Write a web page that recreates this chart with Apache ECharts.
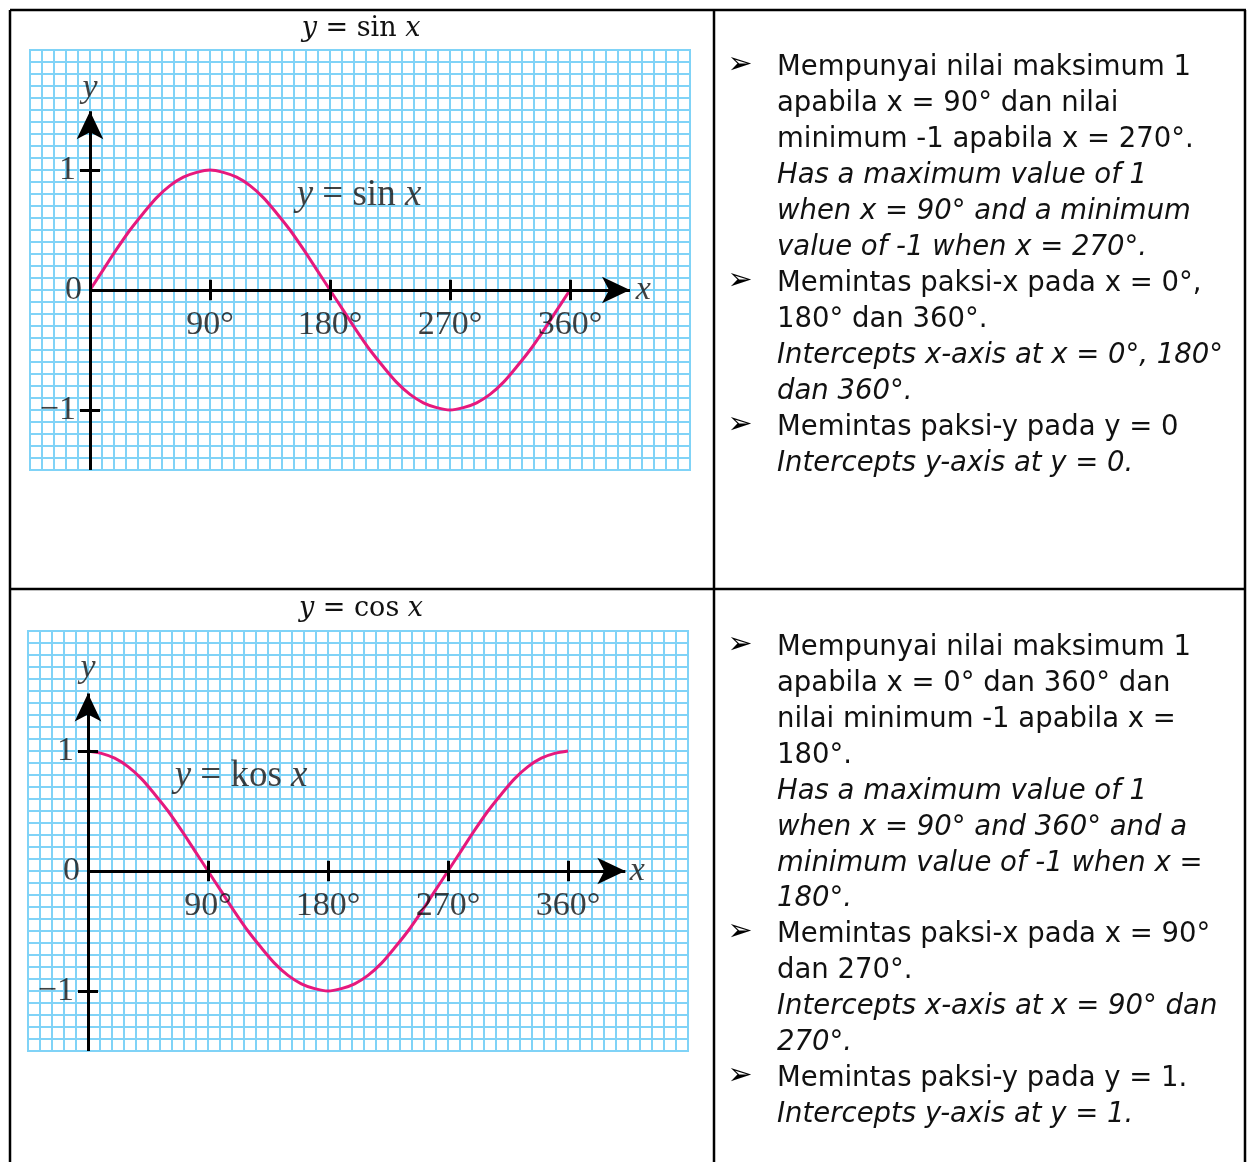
<!DOCTYPE html>
<html>
<head>
<meta charset="utf-8">
<script src="https://cdn.jsdelivr.net/npm/echarts@6/dist/echarts.min.js"></script>
<style>
  html, body { margin: 0; padding: 0; background: #fff; }
  #chart { width: 1248px; height: 1162px; }
</style>
</head>
<body>
<div id="chart"></div>
<script>
// Angle samples (degrees) along one full period
const degrees = [0, 10, 20, 30, 40, 50, 60, 70, 80, 90, 100, 110, 120, 130, 140, 150, 160, 170, 180,
                 190, 200, 210, 220, 230, 240, 250, 260, 270, 280, 290, 300, 310, 320, 330, 340, 350, 360];
// y = sin x
const sinValues = [0, 0.17, 0.34, 0.5, 0.64, 0.77, 0.87, 0.94, 0.98, 1, 0.98, 0.94, 0.87, 0.77, 0.64, 0.5, 0.34, 0.17, 0,
                   -0.17, -0.34, -0.5, -0.64, -0.77, -0.87, -0.94, -0.98, -1, -0.98, -0.94, -0.87, -0.77, -0.64, -0.5, -0.34, -0.17, 0];
// y = kos x
const cosValues = [1, 0.98, 0.94, 0.87, 0.77, 0.64, 0.5, 0.34, 0.17, 0, -0.17, -0.34, -0.5, -0.64, -0.77, -0.87, -0.94, -0.98, -1,
                   -0.98, -0.94, -0.87, -0.77, -0.64, -0.5, -0.34, -0.17, 0, 0.17, 0.34, 0.5, 0.64, 0.77, 0.87, 0.94, 0.98, 1];

// Axis ticks and their labels
const xTicks = [90, 180, 270, 360];
const xTickLabels = ['90°', '180°', '270°', '360°'];
const yTicks = [1, 0, -1];
const yTickLabels = ['1', '0', '−1'];

// Notes beside each graph: [text, italic, bullet]
const sinNotes = [
  ['Mempunyai nilai maksimum 1', false, true],
  ['apabila x = 90° dan nilai', false, false],
  ['minimum -1 apabila x = 270°.', false, false],
  ['Has a maximum value of 1', true, false],
  ['when x = 90° and a minimum', true, false],
  ['value of -1 when x = 270°.', true, false],
  ['Memintas paksi-x pada x = 0°,', false, true],
  ['180° dan 360°.', false, false],
  ['Intercepts x-axis at x = 0°, 180°', true, false],
  ['dan 360°.', true, false],
  ['Memintas paksi-y pada y = 0', false, true],
  ['Intercepts y-axis at y = 0.', true, false]
];
const cosNotes = [
  ['Mempunyai nilai maksimum 1', false, true],
  ['apabila x = 0° dan 360° dan', false, false],
  ['nilai minimum -1 apabila x =', false, false],
  ['180°.', false, false],
  ['Has a maximum value of 1', true, false],
  ['when x = 90° and 360° and a', true, false],
  ['minimum value of -1 when x =', true, false],
  ['180°.', true, false],
  ['Memintas paksi-x pada x = 90°', false, true],
  ['dan 270°.', false, false],
  ['Intercepts x-axis at x = 90° dan', true, false],
  ['270°.', true, false],
  ['Memintas paksi-y pada y = 1.', false, true],
  ['Intercepts y-axis at y = 1.', true, false]
];

const PAPER = '#80d3f7';
const CURVE = '#e6197d';
const INK = '#111';
const SERIF = '"Liberation Serif", "DejaVu Serif", serif';
const SANS = '"DejaVu Sans", sans-serif';

function graphPaperAxes(gi) {
  return {
    x: {
      type: 'value', gridIndex: gi, min: -45, max: 450, interval: 9,
      axisLine: { show: false }, axisTick: { show: false }, axisLabel: { show: false },
      splitLine: { show: true, lineStyle: { color: PAPER, width: 2 } }
    },
    y: {
      type: 'value', gridIndex: gi, min: -1.5, max: 2, interval: 0.1,
      axisLine: { show: false }, axisTick: { show: false }, axisLabel: { show: false },
      splitLine: { show: true, lineStyle: { color: PAPER, width: 2 } }
    }
  };
}

// Black axes with arrows, tick marks
function axesSeries(gi, xEnd, yEnd) {
  const segs = [];
  segs.push([{ coord: [0, 0], symbol: 'none' }, { coord: [xEnd, 0], symbol: 'arrow', symbolSize: [20, 28] }]);
  segs.push([{ coord: [0, -1.5], symbol: 'none' }, { coord: [0, yEnd], symbol: 'arrow', symbolSize: [20, 28] }]);
  xTicks.forEach(t => segs.push([{ coord: [t, -0.085], symbol: 'none' }, { coord: [t, 0.085], symbol: 'none' }]));
  yTicks.filter(t => t !== 0).forEach(t => segs.push([{ coord: [-7.5, t], symbol: 'none' }, { coord: [7.5, t], symbol: 'none' }]));
  return {
    type: 'line', xAxisIndex: gi, yAxisIndex: gi, data: [], silent: true, z: 4,
    markLine: {
      silent: true, animation: false, symbol: 'none', precision: 4,
      label: { show: false },
      lineStyle: { color: '#000', width: 3, type: 'solid' },
      emphasis: { disabled: true },
      data: segs
    }
  };
}

function labelSeries(gi, fnText, fnPos, yLabelAt, xLabelAt) {
  const data = [];
  xTicks.forEach((t, i) => data.push({
    value: [t, 0],
    label: { position: 'bottom', distance: 18, formatter: xTickLabels[i] }
  }));
  yTicks.forEach((t, i) => data.push({
    value: [0, t],
    label: { position: 'left', distance: t === 0 ? 8 : 14, formatter: yTickLabels[i] }
  }));
  data.push({ value: [0, yLabelAt], label: { position: 'inside', formatter: '{i|y}' } });
  data.push({ value: [xLabelAt, 0], label: { position: 'inside', formatter: '{i|x}' } });
  data.push({ value: fnPos, label: { position: 'right', distance: 0, formatter: fnText } });
  return {
    type: 'scatter', xAxisIndex: gi, yAxisIndex: gi, symbolSize: 0, silent: true, z: 5,
    data: data,
    label: {
      show: true, color: INK, fontFamily: SERIF, fontSize: 34,
      rich: {
        i: { fontFamily: SERIF, fontSize: 34, fontStyle: 'italic', color: INK },
        f: { fontFamily: SERIF, fontSize: 37, fontStyle: 'italic', color: INK },
        r: { fontFamily: SERIF, fontSize: 37, color: INK }
      }
    }
  };
}

function curveSeries(gi, values) {
  return {
    type: 'line', xAxisIndex: gi, yAxisIndex: gi, z: 3,
    data: degrees.map((d, i) => [d, values[i]]),
    smooth: 0.3, showSymbol: false, silent: true, clip: false,
    lineStyle: { color: CURVE, width: 3 }
  };
}

const a0 = graphPaperAxes(0), a1 = graphPaperAxes(1);

// Table frame and note text
const graphic = [];
const frame = [
  [10, 10, 1246, 10], [10, 10, 10, 1162], [1245, 10, 1245, 1162],
  [714, 10, 714, 1162], [10, 589, 1245, 589]
];
frame.forEach(s => graphic.push({
  type: 'line', shape: { x1: s[0], y1: s[1], x2: s[2], y2: s[3] },
  style: { stroke: '#000', lineWidth: 2.5 }, z: 10
}));

function titleText(cx, cy, fn) {
  graphic.push({
    type: 'text', x: cx, y: cy, z: 10,
    style: {
      text: '{i|y}{r| = ' + fn + ' }{i|x}', align: 'center', verticalAlign: 'middle',
      rich: {
        i: { fontFamily: '"DejaVu Serif", serif', fontSize: 27, fontStyle: 'italic', fill: '#111' },
        r: { fontFamily: '"DejaVu Serif", serif', fontSize: 27, fill: '#111' }
      }
    }
  });
}
titleText(361, 29, 'sin');
titleText(361, 609, 'cos');

function notes(list, y0, step) {
  list.forEach((n, i) => {
    const y = y0 + i * step;
    if (n[2]) {
      graphic.push({
        type: 'text', x: 740, y: y, z: 10,
        style: { text: '➢', font: 'bold 30px ' + SANS, fill: '#000', align: 'center', verticalAlign: 'middle' }
      });
    }
    graphic.push({
      type: 'text', x: 777, y: y + 3, z: 10,
      style: {
        text: n[0], font: (n[1] ? 'italic ' : '') + '27.5px ' + SANS,
        fill: '#111', align: 'left', verticalAlign: 'middle'
      }
    });
  });
}
notes(sinNotes, 65, 36);
notes(cosNotes, 645, 35.9);

const chart = echarts.init(document.getElementById('chart'), null, { renderer: 'canvas' });
chart.setOption({
  animation: false,
  backgroundColor: '#fff',
  grid: [
    { left: 30, top: 50, width: 660, height: 420, show: true, borderColor: PAPER, borderWidth: 2, backgroundColor: '#fff' },
    { left: 28, top: 631, width: 660, height: 420, show: true, borderColor: PAPER, borderWidth: 2, backgroundColor: '#fff' }
  ],
  xAxis: [a0.x, a1.x],
  yAxis: [a0.y, a1.y],
  series: [
    curveSeries(0, sinValues),
    axesSeries(0, 405, 1.49),
    labelSeries(0, '{f|y}{r| = sin }{f|x}', [155, 0.79], 1.68, 415),
    curveSeries(1, cosValues),
    axesSeries(1, 403, 1.48),
    labelSeries(1, '{f|y}{r| = kos }{f|x}', [65, 0.79], 1.69, 412)
  ],
  graphic: graphic
});
</script>
</body>
</html>
